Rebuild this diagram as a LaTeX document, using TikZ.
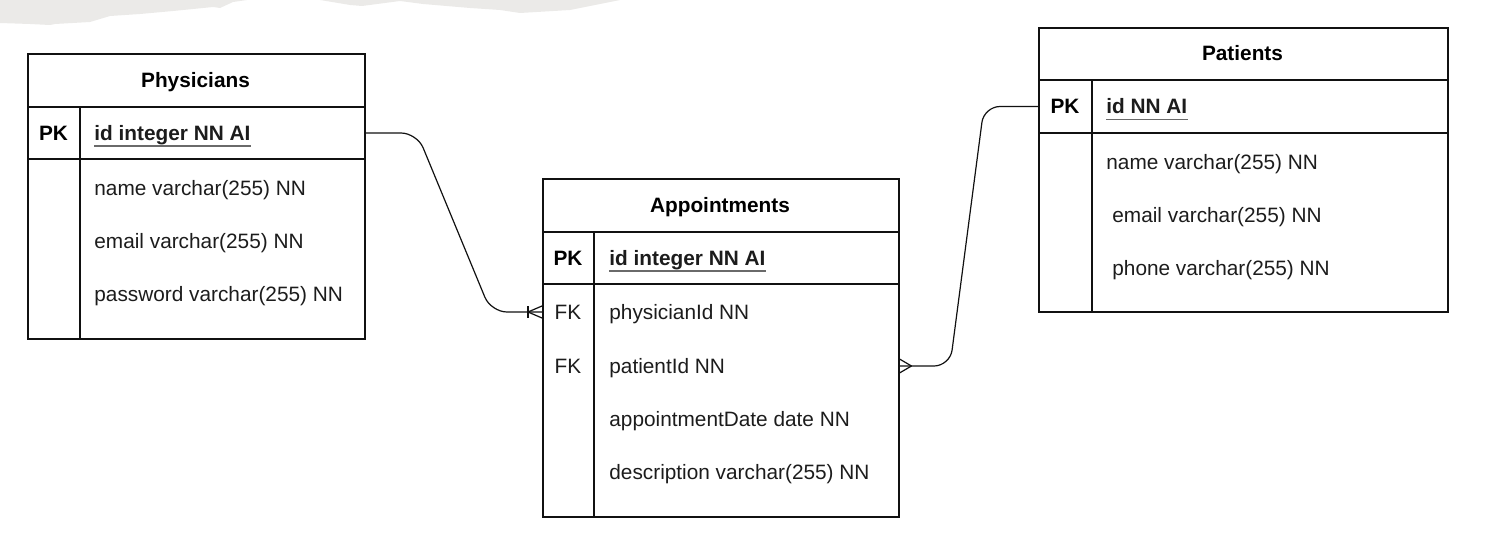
\documentclass[tikz,border=0pt]{standalone}
\usepackage{fontspec}
\setmainfont{Liberation Sans}
\usetikzlibrary{positioning}
\definecolor{erline}{HTML}{111111}
\definecolor{ertext}{HTML}{1C1C1C}
\definecolor{erkey}{HTML}{6A6A6A}
\definecolor{erpaper}{HTML}{EBEAE8}

\begin{document}
\begin{tikzpicture}[x=0.5pt, y=-0.5pt,
      table/.style={
        rectangle, draw=erline, line width=0.75pt,
        inner sep=0pt, anchor=north west
      },
      rule/.style={draw=erline, line width=0.75pt},
      title/.style={font=\fontsize{10.4}{12}\selectfont\bfseries, text=black,
        text height=7.4pt, text depth=0pt, inner sep=0pt},
      key/.style={font=\fontsize{10.4}{12}\selectfont\bfseries, text=black,
        text height=7.4pt, text depth=0pt, inner sep=0pt},
      fkey/.style={font=\fontsize{10.4}{12}\selectfont, text=ertext,
        text height=7.4pt, text depth=0pt, inner sep=0pt},
      field/.style={font=\fontsize{10.4}{12}\selectfont, text=ertext, anchor=west,
        text height=7.4pt, text depth=0pt, inner sep=0pt},
      idfield/.style={field, font=\fontsize{10.4}{12}\selectfont\bfseries},
      keyline/.style={draw=erkey, line width=0.8pt},
      rel/.style={draw=erline, line width=0.6pt, rounded corners=8pt},
      foot/.style={draw=erline, line width=0.6pt}
    ]
      \useasboundingbox (0,0) rectangle (1485,546);

      % torn paper strip
      \fill[erpaper] (0,0) -- (0,23) -- (30,24) -- (50,25) -- (55,24) -- (90,22)
        -- (110,16) -- (140,14) -- (173,11) -- (213,7) -- (220,8) -- (233,2)
        -- (247,0) -- cycle;
      \fill[erpaper] (320,0) -- (350,5) -- (362,6) -- (400,1) -- (423,4)
        -- (470,8) -- (500,10) -- (520,13) -- (570,10) -- (610,2) -- (620,0) -- cycle;

      % Physicians
      \node[table, minimum width=168.5pt, minimum height=142.5pt] (phys) at (27,53) {};
      \draw[rule] (27,107) -- (364,107);
      \draw[rule] (27,159) -- (364,159);
      \draw[rule] (80,107) -- (80,338);
      \node[title] (physhead) at (195.5,80) {Physicians};
      \node[key] (physpk) at (53.5,133) {PK};
      \node[idfield] (physid) at (94,133) {id integer NN AI};
      \draw[keyline] ([yshift=-2.5pt]physid.south west) -- ([yshift=-2.5pt]physid.south east);
      \node[field] (physname) at (94,188) {name varchar(255) NN};
      \node[field] (physmail) at (94,241) {email varchar(255) NN};
      \node[field] (physpass) at (94,294) {password varchar(255) NN};

      % Appointments
      \node[table, minimum width=178pt, minimum height=169pt] (app) at (542,178) {};
      \draw[rule] (542,232) -- (898,232);
      \draw[rule] (542,284) -- (898,284);
      \draw[rule] (594,232) -- (594,516);
      \node[title] (apphead) at (720,205) {Appointments};
      \node[key] (apppk) at (568,258) {PK};
      \node[idfield] (appid) at (609,258) {id integer NN AI};
      \draw[keyline] ([yshift=-2.5pt]appid.south west) -- ([yshift=-2.5pt]appid.south east);
      \node[fkey] (appfk1) at (568,312) {FK};
      \node[field] (appphys) at (609,312) {physicianId NN};
      \node[fkey] (appfk2) at (568,366) {FK};
      \node[field] (apppat) at (609,366) {patientId NN};
      \node[field] (appdate) at (609,419) {appointmentDate date NN};
      \node[field] (appdesc) at (609,472) {description varchar(255) NN};

      % Patients
      \node[table, minimum width=204.5pt, minimum height=142pt] (pat) at (1038,27) {};
      \draw[rule] (1038,80) -- (1447,80);
      \draw[rule] (1038,133) -- (1447,133);
      \draw[rule] (1092,80) -- (1092,311);
      \node[title] (pathead) at (1242.5,53.5) {Patients};
      \node[key] (patpk) at (1065,106.5) {PK};
      \node[idfield] (patid) at (1106,106.5) {id NN AI};
      \draw[keyline] ([yshift=-2.5pt]patid.south west) -- ([yshift=-2.5pt]patid.south east);
      \node[field] (patname) at (1106,162) {name varchar(255) NN};
      \node[field] (patmail) at (1112,215) {email varchar(255) NN};
      \node[field] (patphone) at (1112,268) {phone varchar(255) NN};

      % Relations
      \coordinate (physend) at (phys.east |- physid);
      \coordinate (appin) at (app.west |- appphys);
      \coordinate (appout) at (app.east |- apppat);
      \coordinate (patend) at (pat.west |- patid);

      \draw[rel] (physend) -- (417,133) -- (491,312) -- (appin);
      \draw[foot] ([xshift=-7pt]appin) -- ([yshift=3pt]appin);
      \draw[foot] ([xshift=-7pt]appin) -- ([yshift=-3pt]appin);
      \draw[foot] ([xshift=-7pt,yshift=3pt]appin) -- ([xshift=-7pt,yshift=-3pt]appin);

      \draw[rel] (appout) -- (950,366) -- (984,106.5) -- (patend);
      \draw[foot] ([xshift=6pt]appout) -- ([yshift=3.5pt]appout);
      \draw[foot] ([xshift=6pt]appout) -- ([yshift=-3.5pt]appout);
    \end{tikzpicture}
\end{document}
